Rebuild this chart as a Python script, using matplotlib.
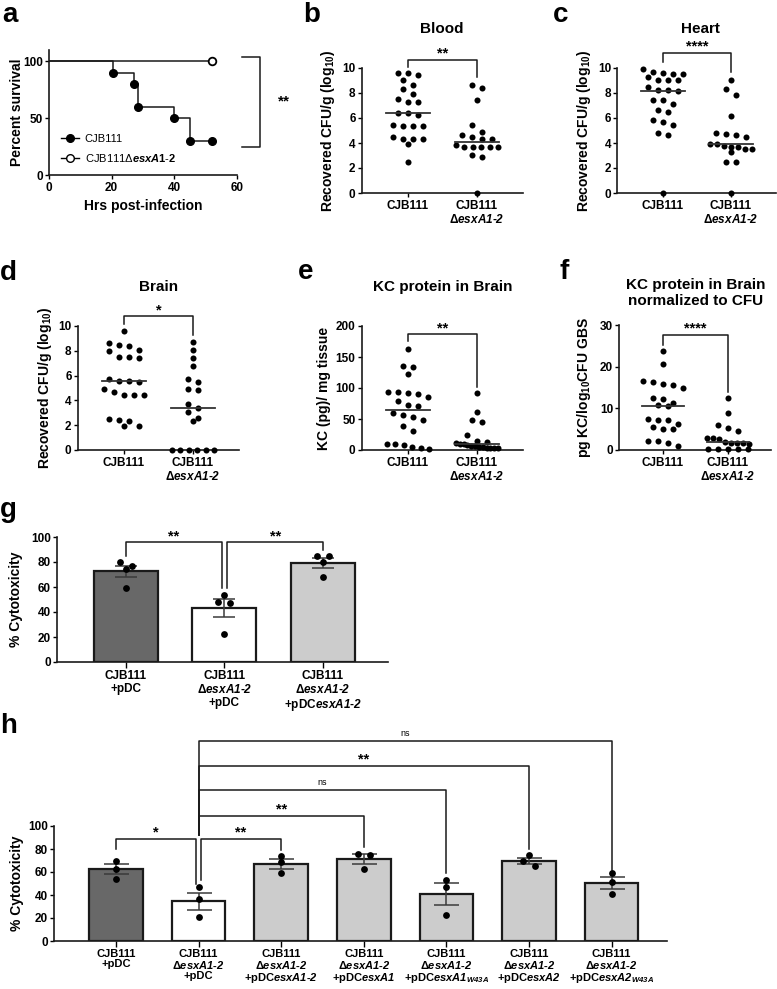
import numpy as np
import matplotlib
matplotlib.use("Agg")
import matplotlib.pyplot as plt
from matplotlib.lines import Line2D

# ---- data ----
# a: survival
surv_wt_t = [0, 20.5, 27, 28.5, 40, 45, 52]
surv_wt_pct = [100, 90, 80, 60, 50, 30, 30]
surv_mut_t = [0, 52]
surv_mut_pct = [100, 100]

# b-f: recovered CFU / KC (CJB111 vs deletion)
blood_wt = [9.6, 9.6, 9.4, 9.0, 8.6, 8.3, 7.95, 7.5, 7.25, 7.25, 6.4, 6.4, 6.25,
            5.4, 5.35, 5.35, 5.35, 4.5, 4.35, 4.35, 4.35, 3.9, 2.5]
blood_mut = [8.65, 8.4, 7.45, 5.4, 4.85, 4.6, 4.5, 4.35, 3.85, 4.35, 3.7, 3.7,
             3.65, 3.7, 3.65, 3.05, 2.85, 0.0]
heart_wt = [9.9, 9.6, 9.5, 9.5, 9.7, 9.0, 9.0, 9.0, 9.25, 8.45, 8.25, 8.2, 8.15,
            7.45, 7.45, 7.15, 6.6, 6.5, 5.85, 5.7, 5.4, 4.8, 4.6, 0.0]
heart_mut = [9.0, 8.35, 7.8, 6.15, 4.75, 4.6, 4.5, 4.8, 3.95, 3.75, 3.7, 3.7, 3.9,
             3.3, 3.55, 3.55, 2.45, 2.5, 0.0]
brain_wt = [9.6, 8.65, 8.5, 8.35, 8.1, 7.95, 7.5, 7.5, 7.45, 5.7, 5.55, 5.55, 5.5,
            4.9, 4.7, 4.45, 4.4, 4.4, 2.5, 2.4, 2.35, 1.95, 1.9]
brain_mut = [8.7, 8.05, 7.4, 6.75, 5.7, 5.45, 4.95, 4.8, 3.7, 3.35, 3.05, 2.6, 2.35,
             0, 0, 0, 0, 0, 0]
kc_wt = [163, 136, 134, 122, 94, 93, 92, 91, 86, 79, 72, 71, 59, 57, 54, 48, 38, 31,
         9, 9, 8, 5, 3, 2]
kc_mut = [92, 61, 49, 45, 24, 14, 13, 11, 10, 9, 8, 7, 6, 5, 5, 4, 4, 3, 3]
kcn_wt = [23.8, 20.6, 16.6, 16.4, 15.8, 15.5, 15.0, 12.4, 12.2, 11.2, 10.7, 10.5,
          7.4, 7.2, 7.2, 6.2, 5.6, 5.0, 5.0, 2.2, 2.2, 1.6, 1.0]
kcn_mut = [12.5, 9.0, 6.0, 5.2, 4.6, 3.0, 2.8, 2.6, 2.0, 1.8, 1.8, 1.6, 1.4,
           0.2, 0.2, 0.2, 0.2, 0.2]

# g: % cytotoxicity
g_groups = [[76.5, 80.2, 74.3, 59.6], [54, 48.1, 47.6, 22.7], [84.5, 84.5, 79.7, 68.4]]
# h: % cytotoxicity
h_groups = [[70, 63, 54.3], [46.8, 36.1, 20.5], [74, 68.8, 59.2], [76, 75, 63],
            [52.9, 47.1, 22.5], [74.6, 69.4, 65], [58.7, 51.4, 40.8]]

D = "Δ$\\mathbfit{esxA1}$-$\\mathbfit{2}$"
col_labels = ["CJB111", "CJB111\n" + D]
g_labels = ["CJB111\n+pDC", "CJB111\n" + D + "\n+pDC",
            "CJB111\n" + D + "\n+pDC$\\mathbfit{esxA1}$-$\\mathbfit{2}$"]
h_labels = g_labels + [
    "CJB111\n" + D + "\n+pDC$\\mathbfit{esxA1}$",
    "CJB111\n" + D + "\n+pDC$\\mathbfit{esxA1}_{\\mathbfit{W43A}}$",
    "CJB111\n" + D + "\n+pDC$\\mathbfit{esxA2}$",
    "CJB111\n" + D + "\n+pDC$\\mathbfit{esxA2}_{\\mathbfit{W43A}}$"]
g_colors = ["#686868", "white", "#cccccc"]
h_colors = ["#686868", "white"] + ["#cccccc"] * 5

plt.rcParams.update({
    "font.family": "Liberation Sans",
    "font.weight": "bold",
    "font.size": 8.5,
    "mathtext.fontset": "custom",
    "mathtext.rm": "Liberation Sans",
    "mathtext.it": "Liberation Sans:italic",
    "mathtext.bf": "Liberation Sans:bold",
    "mathtext.bfit": "Liberation Sans:bold:italic",
    "axes.linewidth": 1.2,
    "axes.edgecolor": "#1a1a1a",
    "xtick.major.width": 1.0,
    "ytick.major.width": 1.0,
    "xtick.major.size": 3,
    "ytick.major.size": 3,
    "xtick.major.pad": 2,
    "ytick.major.pad": 1.5,
})

W, H = 777, 989
fig = plt.figure(figsize=(W / 100, H / 100), dpi=100)


def px_axes(l, t, r, b):
    ax = fig.add_axes([l / W, 1 - b / H, (r - l) / W, (b - t) / H])
    ax.spines[["top", "right"]].set_visible(False)
    ax.tick_params(labelsize=8.5)
    return ax


def letter(x, y, s):
    fig.text(x / W, 1 - y / H, s, fontsize=20, fontweight="bold", va="baseline")


def bracket(ax, x1, x2, top, b1, b2, label, fs=10.5, weight="bold", off=1.5):
    ax.plot([x1, x1, x2, x2], [b1, top, top, b2], color="#1a1a1a", lw=1.1, clip_on=False)
    ax.annotate(label, xy=((x1 + x2) / 2, top), xytext=(0, off),
                textcoords="offset points", ha="center", va="baseline",
                fontsize=fs, fontweight=weight, annotation_clip=False)


def add_swarm(ax, x0, vals, ppu_x, ppu_y, binpx, sp, maxw, s):
    v = np.asarray(vals, float)
    order = np.argsort(-v, kind="stable")
    rows, cur = [], [order[0]]
    for i in order[1:]:
        if (v[cur[0]] - v[i]) * ppu_y < binpx:
            cur.append(i)
        else:
            rows.append(cur)
            cur = [i]
    rows.append(cur)
    off = np.zeros(len(v))
    for row in rows:
        n = len(row)
        step = sp if n < 2 else min(sp, maxw / (n - 1))
        for k, i in enumerate(row):
            off[i] = (k - (n - 1) / 2) * step / ppu_x
    ax.scatter(x0 + off, v, s=s, color="k", lw=0, zorder=4, clip_on=False)


# ---- a: survival ----
ax = px_axes(49, 50, 237, 175)
ax.set_xlim(0, 60)
ax.set_ylim(0, 110)
ax.step(surv_mut_t, surv_mut_pct, where="post", color="#1a1a1a", lw=1.1)
ax.step(surv_wt_t, surv_wt_pct, where="post", color="#1a1a1a", lw=1.1)
ax.plot(surv_wt_t[1:], surv_wt_pct[1:], "o", color="k", ms=5.5, clip_on=False)
ax.plot(surv_mut_t[-1:], surv_mut_pct[-1:], "o", color="k", mfc="white", mew=1.3,
        ms=5.5, clip_on=False)
ax.set_xticks([0, 20, 40, 60])
ax.set_yticks([0, 50, 100])
ax.set_xlabel("Hrs post-infection", fontsize=10, fontweight="bold")
ax.xaxis.set_label_coords(0.5, -0.19)
ax.set_ylabel("Percent survival", fontsize=10, fontweight="bold")
ax.yaxis.set_label_coords((24 - 49) / 188, 0.5)
handles = [Line2D([], [], color="k", marker="o", ms=5.5, lw=1),
           Line2D([], [], color="k", marker="o", ms=5.5, mfc="white", lw=1)]
ax.legend(handles, ["CJB111", "CJB111Δ$\\mathit{esxA1}$-$\\mathit{2}$"],
          loc="lower left", bbox_to_anchor=(0.065, 0.09), frameon=False,
          prop={"weight": "normal", "size": 8}, handlelength=1.6,
          handletextpad=0.5, borderpad=0, borderaxespad=0, labelspacing=0.7)
ax.plot([61.6, 67.3, 67.3, 61.6], [104, 104, 24.6, 24.6], color="#1a1a1a", lw=1.1,
        clip_on=False)
ax.text(75, 61.6, "**", fontsize=11, fontweight="bold", ha="center", va="baseline")
letter(2, 22, "a")

# ---- b-f: column scatter panels ----
XL = (-0.67, 1.66)


def column_panel(l, ppu, t, b, wt, mut, ylim, yticks, ylabel, ylab_x, title, tx, ty,
                 sig, br):
    left, right = l + XL[0] * ppu, l + XL[1] * ppu
    ax = px_axes(left, t, right, b)
    ax.set_xlim(*XL)
    ax.set_ylim(*ylim)
    ppu_y = (b - t) / (ylim[1] - ylim[0])
    for i, vals in enumerate([wt, mut]):
        add_swarm(ax, i, vals, ppu, ppu_y, 7, 10, 42, 19)
        med = np.median(vals)
        ax.plot([i - 0.32, i + 0.32], [med, med], color="#333333", lw=1.3, zorder=5)
    ax.set_xticks([0, 1])
    ax.set_xticklabels(col_labels, fontsize=8.5, linespacing=1.15)
    ax.set_yticks(yticks)
    ax.set_ylabel(ylabel, fontsize=10, fontweight="bold")
    ax.yaxis.set_label_coords((ylab_x - left) / (right - left), 0.5)
    fig.text(tx / W, 1 - ty / H, title, fontsize=11, fontweight="bold",
             ha="center", va="center", linespacing=1.1)
    bracket(ax, 0, 1, br[0], br[1], br[2], sig)
    return ax


cfu_label = "Recovered CFU/g (log$_{\\mathbf{10}}$)"
column_panel(408, 69, 68, 193, blood_wt, blood_mut, (0, 10), range(0, 11, 2),
             cfu_label, 337, "Blood", 442, 29, "**", (10.64, 10.1, 9.3))
letter(303, 22, "b")
column_panel(663, 68, 68, 193, heart_wt, heart_mut, (0, 10), range(0, 11, 2),
             cfu_label, 593, "Heart", 700, 29, "****", (11.2, 10.5, 9.7))
letter(553, 22, "c")
column_panel(124, 69, 326, 450, brain_wt, brain_mut, (0, 10), range(0, 11, 2),
             cfu_label, 54, "Brain", 159, 287, "*", (10.8, 10.2, 9.3))
letter(0, 280, "d")
column_panel(408, 69, 326, 450, kc_wt, kc_mut, (0, 200), range(0, 201, 50),
             "KC (pg)/ mg tissue", 331, "KC protein in Brain", 443, 287, "**",
             (187, 176, 102))
letter(298, 279, "e")
column_panel(663, 65, 325, 450, kcn_wt, kcn_mut, (0, 30), range(0, 31, 10),
             "pg KC/log$_{\\mathbf{10}}$CFU GBS", 593,
             "KC protein in Brain\nnormalized to CFU", 696, 293, "****",
             (27.6, 25.2, 14))
letter(560, 279, "f")


# ---- g, h: bar charts ----
def bar_panel(l, t, r, b, xl, groups, colors, labels, ylab_x, capsize, lab_fs, lab_ls):
    ax = px_axes(l, t, r, b)
    ax.set_xlim(*xl)
    ax.set_ylim(0, 100)
    ppu_x = (r - l) / (xl[1] - xl[0])
    ppu_y = (b - t) / 100
    for i, (vals, col) in enumerate(zip(groups, colors)):
        v = np.asarray(vals, float)
        m = v.mean()
        sem = v.std(ddof=1) / np.sqrt(len(v))
        ax.bar(i, m, width=0.65, color=col, edgecolor="#1a1a1a", lw=1.6, zorder=2)
        ax.errorbar(i, m, yerr=sem, color="#3a3a3a", capsize=capsize, lw=1.1,
                    capthick=1.1, zorder=3)
        add_swarm(ax, i, v, ppu_x, ppu_y, 5.5, 12, 40, 24)
    ax.set_xticks(range(len(groups)))
    ax.set_xticklabels(labels, fontsize=lab_fs, linespacing=lab_ls)
    ax.tick_params(axis="x", length=4, pad=1.5)
    ax.set_yticks(range(0, 101, 20))
    ax.set_ylabel("% Cytotoxicity", fontsize=10, fontweight="bold")
    ax.yaxis.set_label_coords((ylab_x - l) / (r - l), 0.5)
    return ax


ax = bar_panel(57, 537, 388, 662, (-0.70, 2.66), g_groups, g_colors, g_labels, 23, 8,
               8.5, 1.1)
bracket(ax, 0, 0.97, 95.7, 85, 59, "**")
bracket(ax, 1.03, 2, 95.7, 59, 90, "**")
letter(0, 517, "g")

ax = bar_panel(54, 826, 667, 941, (-0.75, 6.67), h_groups, h_colors, h_labels, 24, 9,
               8, 1.0)
bracket(ax, 0, 0.97, 89, 80, 50, "*")
bracket(ax, 1.03, 2, 89, 53, 79, "**")
bracket(ax, 1, 3, 109, 92, 82, "**")
bracket(ax, 1, 4, 131.5, 92, 59, "ns", fs=6.5, weight="normal", off=3.5)
bracket(ax, 1, 5, 152.6, 92, 80, "**")
bracket(ax, 1, 6, 174, 92, 62, "ns", fs=6.5, weight="normal", off=3.5)
letter(0, 733, "h")

fig.savefig("out.png", dpi=100)
